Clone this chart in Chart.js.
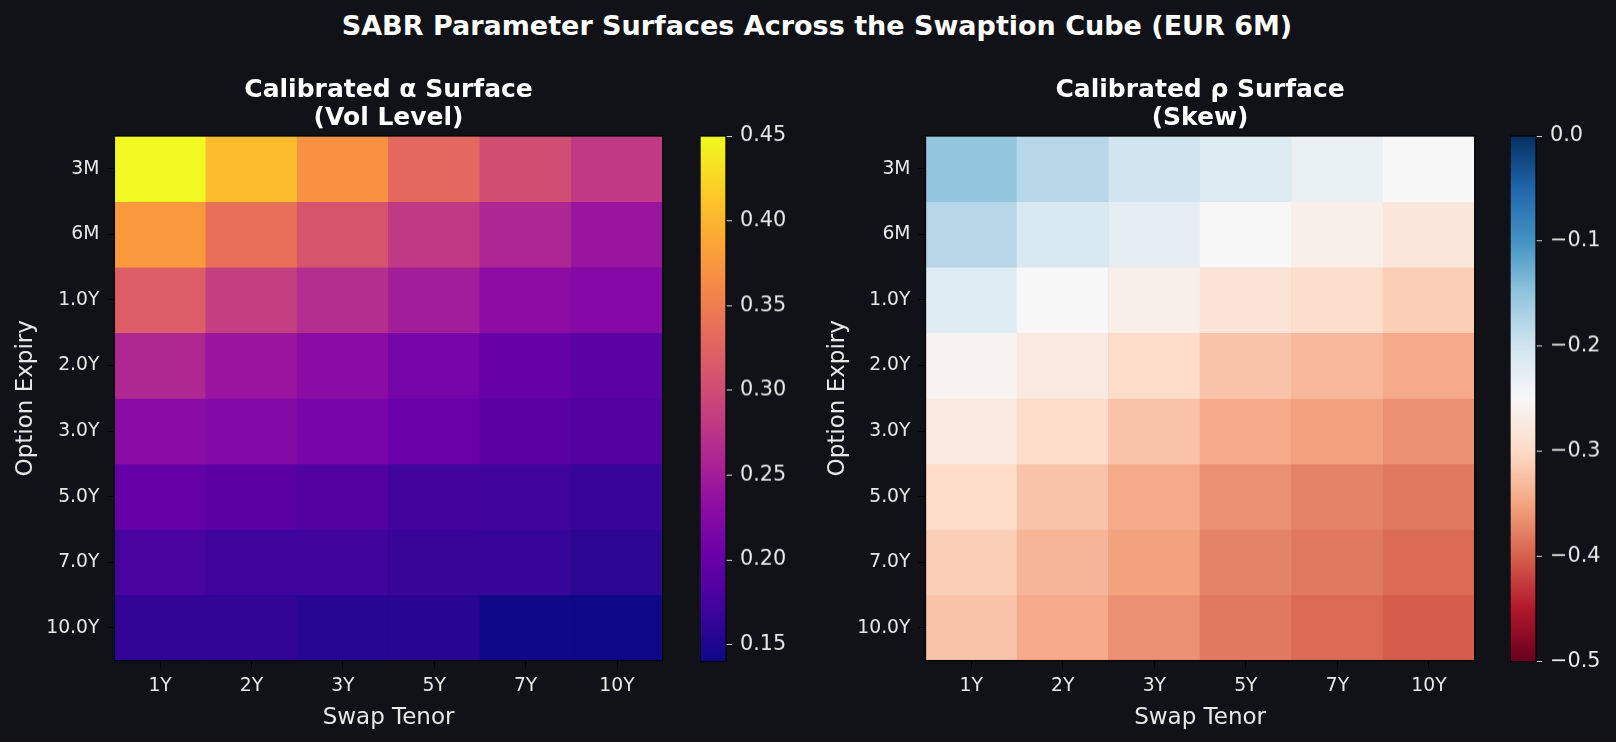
<!DOCTYPE html>
<html>
<head>
<meta charset="utf-8">
<title>SABR Parameter Surfaces</title>
<script src="https://cdn.jsdelivr.net/npm/chart.js@4.4.1/dist/chart.umd.min.js"></script>
<style>
    html, body { margin: 0; padding: 0; background: #111217; }
    body { width: 1616px; height: 742px; position: relative; overflow: hidden; font-family: 'DejaVu Sans', sans-serif; }
    #suptitle { position: absolute; top: 10px; left: 817px; transform: translateX(-50%); white-space: nowrap;
        color: #ffffff; font-weight: bold; font-size: 27px; line-height: 32px; }
    .box { position: absolute; }
</style>
</head>
<body>
<div id="suptitle">SABR Parameter Surfaces Across the Swaption Cube (EUR 6M)</div>
<div class="box" style="left:0px;top:0px;width:680px;height:742px"><canvas id="alphaChart"></canvas></div>
<div class="box" style="left:700px;top:111px;width:100px;height:574.6px"><canvas id="alphaBar"></canvas></div>
<div class="box" style="left:812px;top:0px;width:680px;height:742px"><canvas id="rhoChart"></canvas></div>
<div class="box" style="left:1510px;top:111px;width:100px;height:574.6px"><canvas id="rhoBar"></canvas></div>
<script>
var tenors = ['1Y', '2Y', '3Y', '5Y', '7Y', '10Y'];
var expiries = ['3M', '6M', '1.0Y', '2.0Y', '3.0Y', '5.0Y', '7.0Y', '10.0Y'];

// calibrated alpha, one array per option expiry (columns = swap tenors)
var alpha3M = [0.450, 0.405, 0.370, 0.330, 0.302, 0.280];
var alpha6M = [0.378, 0.338, 0.310, 0.280, 0.260, 0.242];
var alpha1Y = [0.320, 0.286, 0.268, 0.250, 0.231, 0.224];
var alpha2Y = [0.262, 0.242, 0.230, 0.212, 0.198, 0.190];
var alpha3Y = [0.230, 0.223, 0.213, 0.202, 0.191, 0.183];
var alpha5Y = [0.199, 0.191, 0.183, 0.172, 0.170, 0.165];
var alpha7Y = [0.177, 0.169, 0.170, 0.166, 0.165, 0.157];
var alpha10Y = [0.162, 0.162, 0.155, 0.156, 0.141, 0.140];

// calibrated rho
var rho3M = [-0.150, -0.178, -0.200, -0.215, -0.232, -0.250];
var rho6M = [-0.178, -0.210, -0.225, -0.250, -0.265, -0.278];
var rho1Y = [-0.220, -0.250, -0.265, -0.285, -0.295, -0.312];
var rho2Y = [-0.258, -0.275, -0.298, -0.322, -0.332, -0.345];
var rho3Y = [-0.275, -0.298, -0.322, -0.345, -0.352, -0.365];
var rho5Y = [-0.298, -0.322, -0.345, -0.365, -0.375, -0.382];
var rho7Y = [-0.312, -0.335, -0.352, -0.375, -0.382, -0.392];
var rho10Y = [-0.322, -0.345, -0.365, -0.382, -0.392, -0.402];

var alphaTicks = [0.15, 0.20, 0.25, 0.30, 0.35, 0.40, 0.45];
var rhoTicks = [0.0, -0.1, -0.2, -0.3, -0.4, -0.5];

var alphaRows = [alpha3M, alpha6M, alpha1Y, alpha2Y, alpha3Y, alpha5Y, alpha7Y, alpha10Y];
var rhoRows = [rho3M, rho6M, rho1Y, rho2Y, rho3Y, rho5Y, rho7Y, rho10Y];

var allAlpha = [].concat.apply([], alphaRows);
var alphaMin = Math.min.apply(null, allAlpha);
var alphaMax = Math.max.apply(null, allAlpha);
var rhoMin = -0.5, rhoMax = 0.0;

function hexToRgb(h) {
    return [parseInt(h.substr(1, 2), 16), parseInt(h.substr(3, 2), 16), parseInt(h.substr(5, 2), 16)];
}

function makeCmap(stops) {
    var rgb = stops.map(hexToRgb);
    return function(t) {
        t = Math.max(0, Math.min(1, t));
        var x = t * (rgb.length - 1);
        var i = Math.min(Math.floor(x), rgb.length - 2);
        var f = x - i;
        var c = [0, 1, 2].map(function(k) { return Math.round(rgb[i][k] + (rgb[i + 1][k] - rgb[i][k]) * f); });
        return 'rgb(' + c.join(',') + ')';
    };
}

var plasma = makeCmap(['#0d0887', '#41049d', '#6a00a8', '#8f0da4', '#b12a90', '#cc4778',
    '#e16462', '#f2844b', '#fca636', '#fcce25', '#f0f921']);
var rdbu = makeCmap(['#67001f', '#b2182b', '#d6604d', '#f4a582', '#fddbc7', '#f7f7f7',
    '#d1e5f0', '#92c5de', '#4393c3', '#2166ac', '#053061']);

Chart.defaults.font.family = "'DejaVu Sans', sans-serif";
Chart.defaults.color = '#e8e8e8';
Chart.defaults.animation = false;

// draws the dark frame around the plot area
var frame = {
    id: 'frame',
    afterDatasetsDraw: function(chart) {
        var a = chart.chartArea, ctx = chart.ctx;
        ctx.save();
        ctx.strokeStyle = '#050505';
        ctx.lineWidth = 1.3;
        ctx.strokeRect(a.left, a.top, a.right - a.left, a.bottom - a.top);
        ctx.restore();
    }
};

function heatDatasets(rows, cmap, vmin, vmax) {
    return rows.map(function(row, i) {
        return {
            label: expiries[i],
            data: row.map(function() { return 1; }),
            backgroundColor: row.map(function(v) { return cmap((v - vmin) / (vmax - vmin)); }),
            borderWidth: 0,
            barPercentage: 1,
            categoryPercentage: 1
        };
    });
}

function heatmap(id, rows, cmap, vmin, vmax, title, yWidth) {
    return new Chart(document.getElementById(id), {
        type: 'bar',
        data: { labels: tenors, datasets: heatDatasets(rows, cmap, vmin, vmax) },
        plugins: [frame],
        options: {
            responsive: true,
            maintainAspectRatio: false,
            layout: { padding: { top: 0, right: 17.3, bottom: 0, left: 0 } },
            plugins: {
                legend: { display: false },
                tooltip: { enabled: false },
                title: {
                    display: true,
                    fullSize: false,
                    text: title,
                    color: '#ffffff',
                    font: { size: 25, weight: 'bold', lineHeight: 1.112 },
                    padding: { top: 76.5, bottom: 3.9 }
                }
            },
            scales: {
                x: {
                    stacked: true,
                    grid: { display: true, drawOnChartArea: false, offset: false, tickLength: 7, color: '#000000' },
                    border: { display: false },
                    ticks: { font: { size: 18.75 }, padding: 7, color: '#e8e8e8' },
                    title: { display: true, text: 'Swap Tenor', font: { size: 23 }, color: '#e8e8e8', padding: { top: 0, bottom: 10 } },
                    afterFit: function(s) { s.height = 81.4; }
                },
                y: {
                    stacked: true,
                    reverse: true,
                    min: 0,
                    max: expiries.length,
                    afterBuildTicks: function(s) {
                        s.ticks = expiries.map(function(e, i) { return { value: i + 0.5 }; });
                    },
                    grid: { display: true, drawOnChartArea: false, tickLength: 7, color: '#000000' },
                    border: { display: false },
                    ticks: {
                        font: { size: 18.75 },
                        padding: 8,
                        color: '#e8e8e8',
                        callback: function(v, i) { return expiries[i]; }
                    },
                    title: { display: true, text: 'Option Expiry', font: { size: 23 }, color: '#e8e8e8', padding: { top: 12, bottom: 0 } },
                    afterFit: function(s) { s.width = yWidth; }
                }
            }
        }
    });
}

function colorbar(id, cmap, vmin, vmax, tickList, fmt) {
    return new Chart(document.getElementById(id), {
        type: 'bar',
        data: {
            labels: [''],
            datasets: [{
                data: [[vmin, vmax]],
                backgroundColor: function(c) {
                    var area = c.chart.chartArea;
                    if (!area) return cmap(0.5);
                    var g = c.chart.ctx.createLinearGradient(0, area.bottom, 0, area.top);
                    for (var i = 0; i <= 40; i++) g.addColorStop(i / 40, cmap(i / 40));
                    return g;
                },
                borderWidth: 0,
                barPercentage: 1,
                categoryPercentage: 1
            }]
        },
        plugins: [frame],
        options: {
            responsive: true,
            maintainAspectRatio: false,
            layout: { padding: { top: 25, right: 0, bottom: 25, left: 0 } },
            plugins: { legend: { display: false }, tooltip: { enabled: false } },
            scales: {
                x: { display: false },
                y: {
                    position: 'right',
                    min: vmin,
                    max: vmax,
                    afterBuildTicks: function(s) {
                        s.ticks = tickList.map(function(v) { return { value: v }; });
                    },
                    grid: { display: true, drawOnChartArea: false, tickLength: 6, color: '#d8d8d8' },
                    border: { display: false },
                    ticks: { font: { size: 20.8 }, padding: 8, color: '#e8e8e8', callback: fmt },
                    afterFit: function(s) { s.width = 74; }
                }
            }
        }
    });
}

var alphaChart = heatmap('alphaChart', alphaRows, plasma, alphaMin, alphaMax, ['Calibrated \u03b1 Surface', '(Vol Level)'], 114.4);
var rhoChart = heatmap('rhoChart', rhoRows, rdbu, rhoMin, rhoMax, ['Calibrated \u03c1 Surface', '(Skew)'], 113.5);

var alphaBar = colorbar('alphaBar', plasma, alphaMin, alphaMax, alphaTicks, function(v) { return v.toFixed(2); });
var rhoBar = colorbar('rhoBar', rdbu, rhoMin, rhoMax, rhoTicks, function(v) {
    return v.toFixed(1).replace('-', '\u2212');
});
</script>
</body>
</html>
